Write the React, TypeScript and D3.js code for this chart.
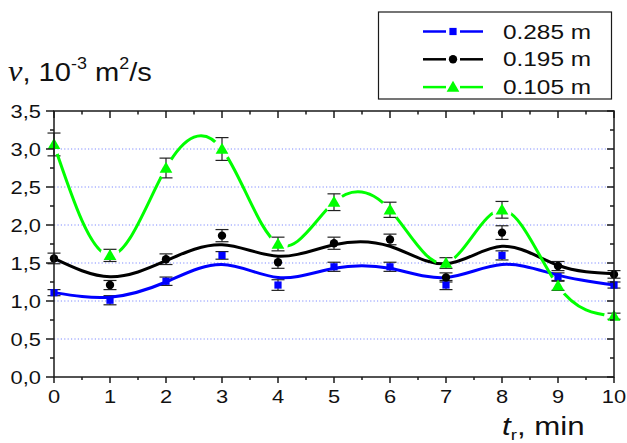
import * as d3 from 'd3';

// time axis, min
const tMin = [0, 1, 2, 3, 4, 5, 6, 7, 8, 9, 10];

// measured points and error bars, 10^-3 m2/s
const v285 = [1.11, 1.01, 1.26, 1.6, 1.21, 1.45, 1.45, 1.21, 1.6, 1.32, 1.21];
const e285 = [0.04, 0.06, 0.055, 0.05, 0.07, 0.06, 0.06, 0.06, 0.06, 0.05, 0.04];
const v195 = [1.56, 1.21, 1.55, 1.86, 1.51, 1.76, 1.81, 1.31, 1.9, 1.46, 1.35];
const e195 = [0.07, 0.06, 0.07, 0.08, 0.08, 0.08, 0.07, 0.06, 0.09, 0.06, 0.05];
const v105 = [3.06, 1.6, 2.75, 3.0, 1.75, 2.3, 2.2, 1.5, 2.2, 1.2, 0.8];
const e105 = [0.15, 0.08, 0.13, 0.15, 0.09, 0.11, 0.1, 0.07, 0.11, 0.06, 0.04];

// fitted curves read at whole minutes
const fit285 = [1.11, 1.05, 1.25, 1.48, 1.31, 1.43, 1.43, 1.31, 1.48, 1.34, 1.21];
const fit195 = [1.56, 1.32, 1.53, 1.74, 1.59, 1.74, 1.72, 1.49, 1.72, 1.47, 1.36];

const yTicks = [0, 0.5, 1, 1.5, 2, 2.5, 3, 3.5];
const yGrid = [0.5, 1, 1.5, 2, 2.5, 3];
const legendNames = ['0.285 m', '0.195 m', '0.105 m'];

const W = 627;
const H = 443;
const SX = 1.25; // text in the reference is widened
const FONT = "Arial, 'Liberation Sans', sans-serif";
const BLUE = '#0000ff';
const GREEN = '#00ff00';
const AX = '#1a1a1a';

const x = d3.scaleLinear().domain([0, 10]).range([54, 614]);
const y = d3.scaleLinear().domain([0, 3.5]).range([377, 111]);

const spline = d3.line<number>()
  .x((d, i) => x(tMin[i]))
  .y(d => y(d))
  .curve(d3.curveNatural);

const sym = (type: d3.SymbolType, size: number) => d3.symbol().type(type).size(size)() as string;
const sqPath = sym(d3.symbolSquare, 52);
const ciPath = sym(d3.symbolCircle, 55);
const trPath = sym(d3.symbolTriangle, 70);

function T(props: any) {
  const { x: tx, y: ty, size, anchor, sx, children, ...rest } = props;
  return (
    <text transform={`translate(${tx},${ty}) scale(${sx || SX},1)`} fontSize={size}
      textAnchor={anchor || 'start'} fontFamily={FONT} fill="#111" {...rest}>
      {children}
    </text>
  );
}

function ErrBars({ vals, errs }: { vals: number[]; errs: number[] }) {
  return (
    <g stroke="#222" strokeWidth={1.2}>
      {vals.map((v, i) => {
        const cx = x(tMin[i]);
        const y1 = y(v + errs[i]);
        const y2 = y(v - errs[i]);
        return (
          <g key={i}>
            <line x1={cx} x2={cx} y1={y1} y2={y2} />
            <line x1={cx - 6.5} x2={cx + 6.5} y1={y1} y2={y1} />
            <line x1={cx - 6.5} x2={cx + 6.5} y1={y2} y2={y2} />
          </g>
        );
      })}
    </g>
  );
}

function Markers({ vals, path, color, dy = 0 }: { vals: number[]; path: string; color: string; dy?: number }) {
  return (
    <g fill={color}>
      {vals.map((v, i) => (
        <path key={i} d={path} transform={`translate(${x(tMin[i])},${y(v) + dy})`} />
      ))}
    </g>
  );
}

export default function App() {
  const xMajor = d3.range(0, 11);
  const xMinor = d3.range(0.5, 10, 1);
  const yMinor = d3.range(0.25, 3.5, 0.5);
  const legendRows = [
    { color: BLUE, path: sqPath, dy: 0 },
    { color: '#000', path: ciPath, dy: 0 },
    { color: GREEN, path: trPath, dy: 1 },
  ];

  return (
    <svg width={W} height={H} style={{ position: 'absolute', left: 0, top: 0, background: '#fff' }}>
      <defs>
        <mask id="gapMask">
          <rect x={0} y={0} width={W} height={H} fill="#fff" />
          {v105.map((v, i) => (
            <circle key={i} cx={x(tMin[i])} cy={y(v)} r={10} fill="#000" />
          ))}
        </mask>
      </defs>

      {/* grid */}
      <g stroke="#7f8cff" strokeWidth={1} strokeDasharray="1.2,2.2">
        {yGrid.map(g => (
          <line key={g} x1={x(0)} x2={x(10)} y1={y(g)} y2={y(g)} />
        ))}
      </g>

      <ErrBars vals={v285} errs={e285} />
      <ErrBars vals={v195} errs={e195} />
      <ErrBars vals={v105} errs={e105} />

      <path d={spline(fit285) as string} fill="none" stroke={BLUE} strokeWidth={3} />
      <path d={spline(fit195) as string} fill="none" stroke="#000" strokeWidth={3} />
      <path d={spline(v105) as string} fill="none" stroke={GREEN} strokeWidth={3} mask="url(#gapMask)" />

      <Markers vals={v285} path={sqPath} color={BLUE} />
      <Markers vals={v195} path={ciPath} color="#000" />
      <Markers vals={v105} path={trPath} color={GREEN} dy={1} />

      {/* frame and ticks */}
      <g stroke={AX} strokeWidth={1.5} fill="none">
        <rect x={x(0)} y={y(3.5)} width={x(10) - x(0)} height={y(0) - y(3.5)} />
        {xMajor.map(t => (
          <g key={'xm' + t}>
            <line x1={x(t)} x2={x(t)} y1={y(0)} y2={y(0) + 6} />
            <line x1={x(t)} x2={x(t)} y1={y(3.5)} y2={y(3.5) + 7} />
          </g>
        ))}
        {xMinor.map(t => (
          <g key={'xn' + t}>
            <line x1={x(t)} x2={x(t)} y1={y(0)} y2={y(0) + 3} />
            <line x1={x(t)} x2={x(t)} y1={y(3.5)} y2={y(3.5) + 3.5} />
          </g>
        ))}
        {yTicks.map(t => (
          <g key={'ym' + t}>
            <line x1={x(0) - 8} x2={x(0)} y1={y(t)} y2={y(t)} />
            <line x1={x(10) - 7} x2={x(10)} y1={y(t)} y2={y(t)} />
          </g>
        ))}
        {yMinor.map(t => (
          <g key={'yn' + t}>
            <line x1={x(0) - 4} x2={x(0)} y1={y(t)} y2={y(t)} />
            <line x1={x(10) - 4} x2={x(10)} y1={y(t)} y2={y(t)} />
          </g>
        ))}
      </g>

      {/* tick labels */}
      {yTicks.map(t => (
        <T key={'yl' + t} x={41} y={y(t) + 6.5} size={17.5} anchor="end">
          {d3.format('.1f')(t).replace('.', ',')}
        </T>
      ))}
      {xMajor.map(t => (
        <T key={'xl' + t} x={x(t)} y={403} size={17.5} anchor="middle">{t}</T>
      ))}

      {/* axis titles */}
      <T x={8} y={81} size={26} sx={1.12}>
        <tspan fontFamily="'Liberation Serif', serif" fontStyle="italic" fontSize={29}>ν</tspan>
        <tspan>, 10</tspan>
        <tspan fontSize={16} dy={-12}>-3</tspan>
        <tspan dy={12}> m</tspan>
        <tspan fontSize={16} dy={-12}>2</tspan>
        <tspan dy={12}>/s</tspan>
      </T>
      <T x={502} y={435} size={25}>
        <tspan fontStyle="italic">t</tspan>
        <tspan fontSize={15} dy={5}>r</tspan>
        <tspan dy={-5}>, min</tspan>
      </T>

      {/* legend */}
      <rect x={378.5} y={12} width={233} height={87} fill="#fff" stroke={AX} strokeWidth={1.2} />
      {legendRows.map((r, i) => {
        const ly = 31.5 + i * 27.8;
        return (
          <g key={'lg' + i}>
            <line x1={423} x2={446} y1={ly} y2={ly} stroke={r.color} strokeWidth={2.5} />
            <line x1={460} x2={483} y1={ly} y2={ly} stroke={r.color} strokeWidth={2.5} />
            <path d={r.path} fill={r.color} transform={`translate(453,${ly + r.dy})`} />
            <T x={503} y={ly + 7} size={19.5}>{legendNames[i]}</T>
          </g>
        );
      })}
    </svg>
  );
}
